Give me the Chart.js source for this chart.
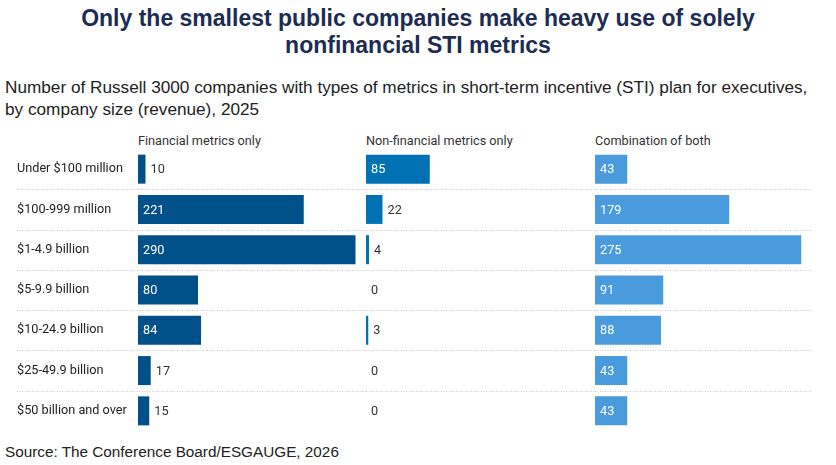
<!DOCTYPE html>
<html>
<head>
<meta charset="utf-8">
<script src="https://cdn.jsdelivr.net/npm/chart.js@4.4.1/dist/chart.umd.min.js"></script>
<style>
    body { margin: 0; background: #fff; }
    #wrap { position: relative; width: 836px; height: 465px; overflow: hidden; }
    .title {
        position: absolute; left: 0; top: 5px; width: 836px; text-align: center;
        font: bold 23px "Liberation Sans", Arial, sans-serif; color: #1c2c52; line-height: 27px;
    }
    .subtitle {
        position: absolute; left: 5px; top: 76px; width: 831px;
        font: 17.2px "Liberation Sans", Arial, sans-serif; color: #222; line-height: 22px;
        white-space: nowrap;
    }
    .head {
        position: absolute; top: 133px;
        font: 12.7px Roboto, sans-serif; color: #333;
    }
    .source {
        position: absolute; left: 5px; top: 443px;
        font: 15.3px "Liberation Sans", Arial, sans-serif; color: #222;
    }
    canvas { position: absolute; }
</style>
</head>
<body>
<div id="wrap">
    <div class="title">Only the smallest public companies make heavy use of solely<br>nonfinancial STI metrics</div>
    <div class="subtitle">Number of Russell 3000 companies with types of metrics in short-term incentive (STI) plan for executives,<br>by company size (revenue), 2025</div>
    <div class="head" style="left:138px">Financial metrics only</div>
    <div class="head" style="left:366px">Non-financial metrics only</div>
    <div class="head" style="left:595px">Combination of both</div>
    <div class="source">Source: The Conference Board/ESGAUGE, 2026</div>
</div>
<script>
// Data
const sizes = ['Under $100 million', '$100-999 million', '$1-4.9 billion', '$5-9.9 billion',
    '$10-24.9 billion', '$25-49.9 billion', '$50 billion and over'];
const financialOnly = [10, 221, 290, 80, 84, 17, 15];
const nonFinancialOnly = [85, 22, 4, 0, 3, 0, 0];
const combination = [43, 179, 275, 91, 88, 43, 43];

const AXIS_MAX = 300;
const TOP = 149, BOTTOM = 431;
const LABEL_FONT = '12.7px Roboto, sans-serif';

// Dotted separators between rows
const separatorPlugin = {
    id: 'separators',
    beforeDatasetsDraw(chart, args, opts) {
        const { ctx } = chart;
        const y = chart.scales.y;
        ctx.save();
        ctx.strokeStyle = '#c8c8c8';
        ctx.lineWidth = 1;
        ctx.setLineDash([1, 1.5]);
        for (let i = 1; i < sizes.length; i++) {
            const py = Math.round((y.getPixelForValue(i - 1) + y.getPixelForValue(i)) / 2) + 0.5;
            ctx.beginPath();
            ctx.moveTo(opts.x0, py);
            ctx.lineTo(opts.x1, py);
            ctx.stroke();
        }
        ctx.restore();
    }
};

// Value labels: inside (white) for wide bars, outside (dark) for narrow ones
const valueLabelPlugin = {
    id: 'valueLabels',
    afterDatasetsDraw(chart) {
        const { ctx } = chart;
        const meta = chart.getDatasetMeta(0);
        const data = chart.data.datasets[0].data;
        ctx.save();
        ctx.font = LABEL_FONT;
        ctx.textBaseline = 'middle';
        meta.data.forEach((bar, i) => {
            const w = bar.x - bar.base;
            if (w > 28) {
                ctx.fillStyle = '#ffffff';
                ctx.fillText(data[i], bar.base + 5, bar.y + 1);
            } else {
                ctx.fillStyle = '#333333';
                ctx.fillText(data[i], bar.x + 5, bar.y + 1);
            }
        });
        ctx.restore();
    }
};

function makeChart(left, width, padLeft, padRight, values, color, showLabels, sepX0, sepX1) {
    const canvas = document.createElement('canvas');
    canvas.style.left = left + 'px';
    canvas.style.top = '0px';
    canvas.width = width;
    canvas.height = 465;
    canvas.style.width = width + 'px';
    canvas.style.height = '465px';
    document.getElementById('wrap').appendChild(canvas);

    return new Chart(canvas, {
        type: 'bar',
        data: {
            labels: sizes,
            datasets: [{
                data: values,
                backgroundColor: color,
                barThickness: 29,
                borderSkipped: false,
                inflateAmount: 0
            }]
        },
        options: {
            indexAxis: 'y',
            responsive: false,
            animation: false,
            layout: { padding: { left: padLeft, right: padRight, top: TOP, bottom: 465 - BOTTOM } },
            plugins: {
                legend: { display: false },
                tooltip: { enabled: false },
                separators: { x0: sepX0, x1: sepX1 }
            },
            scales: {
                x: {
                    display: false,
                    min: 0,
                    max: AXIS_MAX
                },
                y: {
                    display: showLabels,
                    grid: { display: false },
                    border: { display: false },
                    ticks: {
                        crossAlign: 'far',
                        padding: 0,
                        color: '#222',
                        font: { family: 'Roboto', size: 12.7 }
                    },
                    afterFit(scale) { if (showLabels) scale.width = 121; }
                }
            }
        },
        plugins: [separatorPlugin, valueLabelPlugin]
    });
}

makeChart(0, 366, 17, 3, financialOnly, '#00508a', true, 17, 366);
makeChart(366, 229, 0, 4, nonFinancialOnly, '#0072b4', false, 0, 229);
makeChart(595, 241, 0, 16, combination, '#4a9ade', false, 0, 217);
</script>
</body>
</html>
